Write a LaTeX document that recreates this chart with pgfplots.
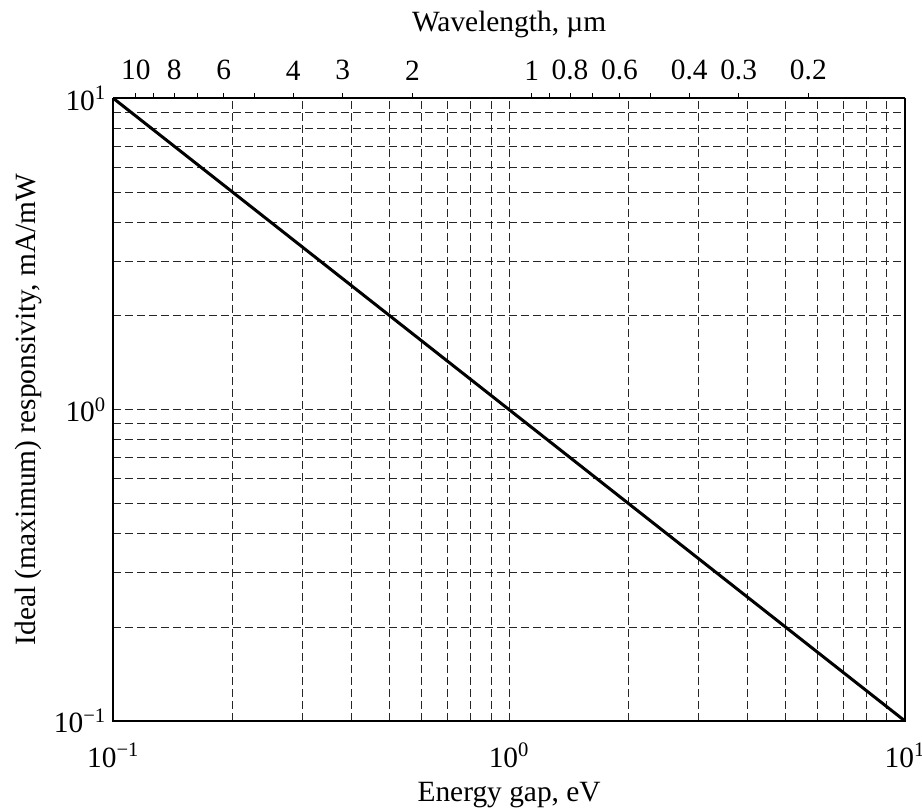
\documentclass[border=0pt]{standalone}
\usepackage{fontspec}
\setmainfont{Liberation Serif}
\usepackage{pgfplots}
\pgfplotsset{compat=1.18}

\newcommand{\dec}[1]{10\textsuperscript{#1}}

\pgfplotsset{
  every axis/.append style={
    scale only axis,
    width=395.85pt,
    height=311.35pt,
    tick label style={font=\fontsize{14.7pt}{17pt}\selectfont},
    label style={font=\fontsize{14.7pt}{17pt}\selectfont},
  }
}

\begin{document}
\begin{tikzpicture}
\path[use as bounding box] (-56.65pt,-44.5pt) rectangle (404.35pt,360.5pt);

% main energy-gap axis
\begin{axis}[
  xmode=log, ymode=log,
  xmin=0.1, xmax=10,
  ymin=0.1, ymax=10,
  axis line style={line width=0.8pt},
  xtick={0.1,1,10},
  xticklabels={\dec{−1},\dec{0},\dec{1}},
  ytick={0.1,1,10},
  yticklabels={\dec{−1},\dec{0},\dec{1}},
  minor xtick={0.2,0.3,0.4,0.5,0.6,0.7,0.8,0.9,2,3,4,5,6,7,8,9},
  minor ytick={0.2,0.3,0.4,0.5,0.6,0.7,0.8,0.9,2,3,4,5,6,7,8,9},
  major tick length=0pt,
  minor tick length=0pt,
  grid=both,
  grid style={black!85, line width=0.5pt, dash pattern=on 4pt off 2pt},
  major grid style={black!85, line width=0.5pt, dash pattern=on 4pt off 2pt},
  xticklabel style={yshift=-7.5pt},
  xlabel={Energy gap, eV},
  ylabel={Ideal (maximum) responsivity, mA/mW},
  xlabel style={at={(axis description cs:0.5,-0.119)}, anchor=center},
  ylabel style={at={(axis description cs:-0.107, 0.5)}, anchor=center},
]
\addplot[black, line width=1.5pt] coordinates {(0.1,10) (1,1) (10,0.1)};
\end{axis}

% wavelength scale on top, lambda = 1.14/E
\begin{axis}[
  xmode=log,
  xmin=0.1, xmax=10,
  ymin=0, ymax=1,
  axis x line*=top,
  axis y line=none,
  axis line style={line width=0.8pt},
  xtick={0.114,0.12667,0.1425,0.16286,0.19,0.228,0.285,0.38,0.57,1.14,1.2667,1.425,1.6286,1.9,2.28,2.85,3.8,5.7},
  xticklabels={10,,8,,6,,4,3,2,1,,0.8,,0.6,,0.4,0.3,0.2},
  xticklabel style={yshift=3pt},
  tick align=outside,
  major tick length=2.5pt,
  tick style={black, line width=0.5pt},
  xlabel={Wavelength, µm},
  xlabel style={at={(axis description cs:0.5,1.118)}, anchor=center},
]
\end{axis}
\end{tikzpicture}
\end{document}
